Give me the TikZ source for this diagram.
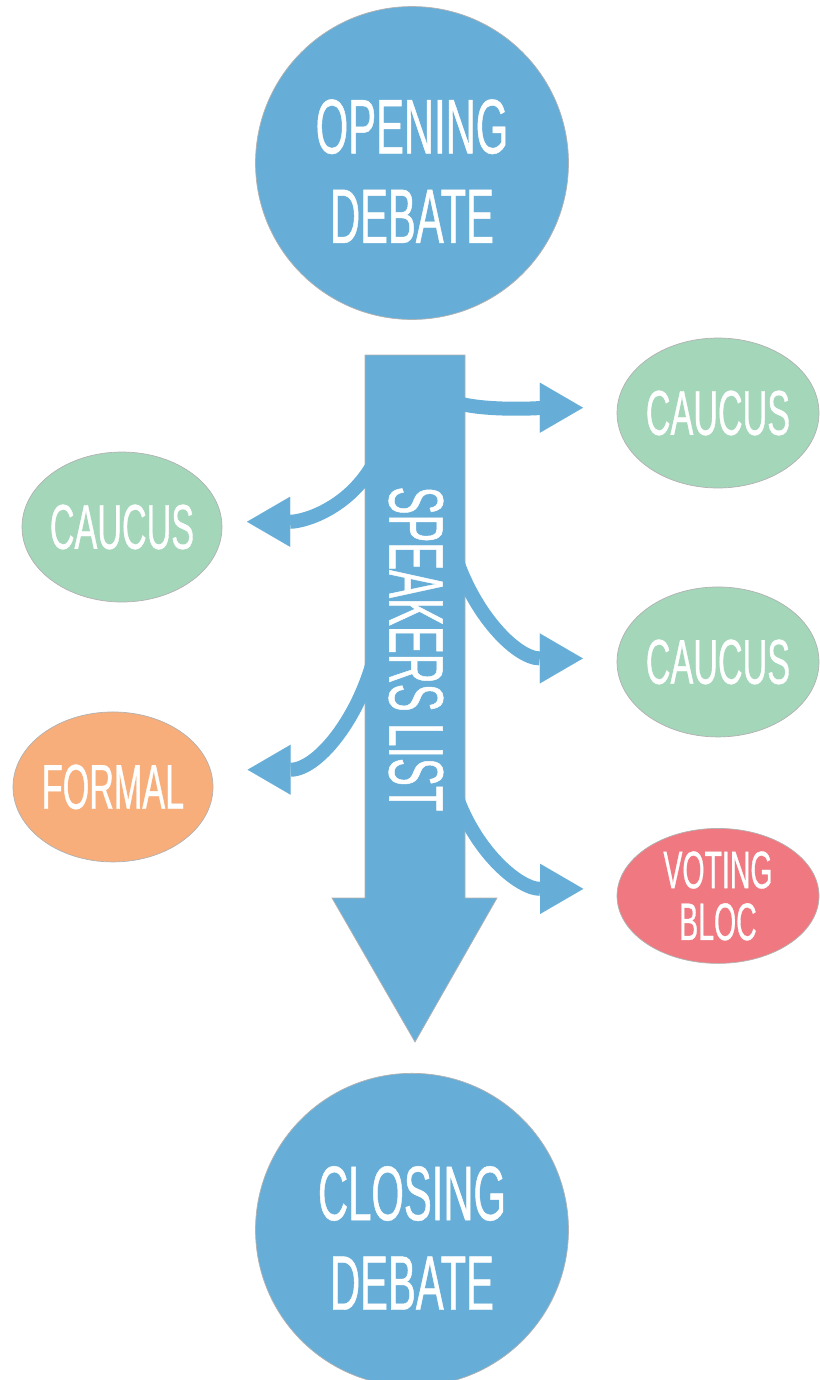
\documentclass[tikz,border=0pt]{standalone}
\usepackage{fontspec}
\newfontfamily\slimfont[FakeStretch=0.54,FakeBold=0.6]{Liberation Sans}
\usepackage{tikz}
\usetikzlibrary{shapes.geometric,arrows.meta,positioning}

\definecolor{debateblue}{RGB}{102,174,216}
\definecolor{caucusgreen}{RGB}{164,214,186}
\definecolor{formalorange}{RGB}{248,174,122}
\definecolor{blocred}{RGB}{240,120,128}

\begin{document}
\begin{tikzpicture}[x=0.02cm,y=-0.02cm,on grid,
   debate/.style={circle,fill=debateblue,draw=black!30,minimum size=6.26cm,inner sep=0pt,
      text=white,align=center,font=\slimfont\fontsize{44}{51}\selectfont},
   motion/.style={ellipse,draw=black!30,minimum width=4.04cm,minimum height=3cm,
      inner xsep=-4pt,inner ysep=0pt,text=white,align=center,font=\slimfont\fontsize{36}{36}\selectfont},
   branch/.style={draw=debateblue,line width=0.28cm,
      -{Triangle[length=0.86cm,width=1cm,line width=0.01pt]}}]
   \useasboundingbox (0,0) rectangle (819,1380);

   \node[debate] (opening) at (412,163) {\rule{0pt}{40pt}OPENING\\DEBATE};
   \node[debate] (closing) [below=21.34cm of opening] {\rule{0pt}{40pt}CLOSING\\DEBATE};

   % speakers list
   \filldraw[fill=debateblue,draw=black!30] (365,355) -- (465,355) -- (465,898) -- (497,898)
      -- (415,1042) -- (332,898) -- (365,898) -- cycle;
   \node[rotate=-90,text=white,font=\slimfont\fontsize{44}{44}\selectfont] (speakers) at (416,649) {SPEAKERS LIST};

   \node[motion,fill=caucusgreen] (caucus_r1) at (718,413) {CAUCUS};
   \node[motion,fill=caucusgreen] (caucus_r2) [below=4.98cm of caucus_r1] {CAUCUS};
   \node[motion,fill=blocred,minimum height=2.7cm,font=\slimfont\fontsize{30}{29.5}\selectfont] (bloc) [below=4.68cm of caucus_r2] {VOTING\\BLOC};
   \node[motion,fill=caucusgreen,minimum width=4cm] (caucus_l) at (122,527) {CAUCUS};
   \node[motion,fill=formalorange,minimum width=4cm] (formal) [below left=5.2cm and 0.18cm of caucus_l] {FORMAL};

   \coordinate (b_r1) at (455,402);
   \coordinate (b_r2) at (452,545);
   \coordinate (b_r3) at (452,782);
   \coordinate (b_l1) at (378,455);
   \coordinate (b_l2) at (378,640);
   \coordinate[left=0.68cm of caucus_r1.177] (t_r1);
   \coordinate[left=0.68cm of caucus_r2.178] (t_r2);
   \coordinate[left=0.68cm of bloc.176] (t_r3);
   \coordinate[right=0.5cm of caucus_l.3] (t_l1);
   \coordinate[right=0.74cm of formal.10] (t_l2);

   \draw[branch] (b_r1) to[out=-20,in=180,looseness=0.6] (t_r1);
   \draw[branch] (b_r2) to[out=-75,in=180] (t_r2);
   \draw[branch] (b_r3) to[out=-75,in=180] (t_r3);
   \draw[branch] (b_l1) to[out=-115,in=0] (t_l1);
   \draw[branch] (b_l2) to[out=-100,in=0] (t_l2);
\end{tikzpicture}
\end{document}
